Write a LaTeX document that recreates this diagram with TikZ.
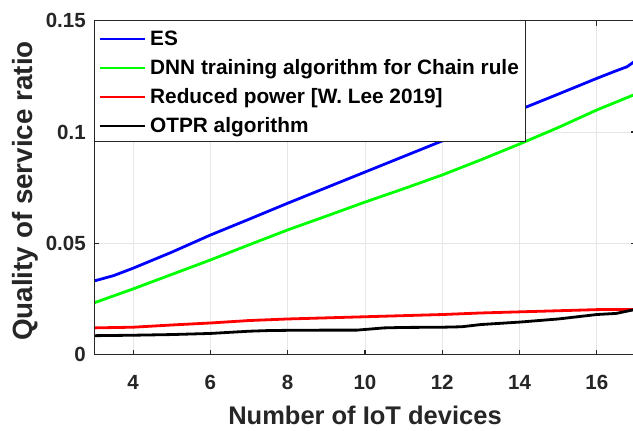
\documentclass[tikz,border=0pt]{standalone}
\usepackage{fontspec}
\setmainfont{Liberation Sans}
\definecolor{axisgray}{HTML}{262626}
\definecolor{gridgray}{HTML}{E6E6E6}
\definecolor{esblue}{RGB}{0,0,255}
\definecolor{dnngreen}{RGB}{0,255,0}
\definecolor{redpow}{RGB}{255,0,0}
\tikzset{
  gridline/.style={draw=gridgray, line width=0.8pt},
  axisline/.style={draw=axisgray, line width=1.1pt},
  tickmark/.style={draw=axisgray, line width=1.1pt},
  ticklabel/.style={text=axisgray, font=\fontsize{20.5}{22}\selectfont\bfseries, inner sep=0pt},
  axlabel/.style={text=axisgray, font=\fontsize{25.5}{28}\selectfont\bfseries, inner sep=0pt},
  curve/.style={line width=2.8pt, line join=round},
  legtext/.style={font=\fontsize{20.8}{22}\selectfont\bfseries, anchor=base west, inner sep=0pt},
  legframe/.style={draw=axisgray, fill=white, line width=0.9pt},
}
\begin{document}
\begin{tikzpicture}[x=1pt,y=1pt]
\useasboundingbox (0,0) rectangle (633,431);
\clip (0,0) rectangle (633,431);
\fill[white] (0,0) rectangle (633,431);

% plot area: x from 3 to 17, y in hundredths from 0 to 15
\begin{scope}[shift={(94.4,76.4)}, x=38.65pt, y=22.26pt]
  % grid
  \foreach \gx in {4,6,...,16} \draw[gridline] (\gx-3,0) -- (\gx-3,15);
  \foreach \gy in {5,10} \draw[gridline] (0,\gy) -- (14,\gy);

  % data series
  \draw[curve, draw=esblue] plot coordinates {
    (0,3.31) (0.5,3.55) (1,3.88) (2,4.6) (3,5.37) (4,6.08) (5,6.8) (6,7.5)
    (7,8.2) (8,8.9) (9,9.6) (10,10.3) (11,11.0) (12,11.7) (13,12.41)
    (13.5,12.75) (13.78,12.93) (14,13.2)};
  \draw[curve, draw=dnngreen] plot coordinates {
    (0,2.33) (1,2.95) (2,3.6) (3,4.25) (4,4.93) (5,5.6) (6,6.22) (7,6.85)
    (8,7.45) (9,8.07) (10,8.75) (11,9.46) (12,10.2) (13,10.99) (14,11.7)};
  \draw[curve, draw=redpow] plot coordinates {
    (0,1.2) (1,1.23) (2,1.33) (3,1.42) (4,1.53) (5,1.6) (6,1.65) (7,1.7)
    (8,1.75) (9,1.8) (10,1.87) (11,1.92) (12,1.97) (13,2.02) (13.5,2.03) (14,2.03)};
  \draw[curve, draw=black] plot coordinates {
    (0,0.85) (1,0.87) (2,0.9) (3,0.95) (4,1.05) (4.5,1.08) (5,1.09)
    (6,1.1) (6.8,1.1) (7.5,1.2) (8,1.22) (9,1.23) (9.5,1.25) (10,1.35)
    (11,1.46) (12,1.6) (13,1.8) (13.5,1.85) (14,2.03)};

  % axes frame and ticks
  \draw[axisline] (14,15) -- (0,15) -- (0,0) -- (14,0) -- cycle;
  \foreach \gx in {4,6,...,16} {
    \draw[tickmark] (\gx-3,0) -- ++(0,5pt);
    \draw[tickmark] (\gx-3,15) -- ++(0,-5pt);
  }
  \foreach \gy in {0,5,10,15} {
    \draw[tickmark] (0,\gy) -- ++(5pt,0);
    \draw[tickmark] (14,\gy) -- ++(-5pt,0);
  }

  % tick labels
  \foreach \gx in {4,6,...,16}
    \node[ticklabel, anchor=base] (xt\gx) at (\gx-3,-1.55) {\gx};
  \node[ticklabel, anchor=east] (yt0)  at (-0.22,0)  {0};
  \node[ticklabel, anchor=east] (yt5)  at (-0.22,5)  {0.05};
  \node[ticklabel, anchor=east] (yt10) at (-0.22,10) {0.1};
  \node[ticklabel, anchor=east] (yt15) at (-0.22,15) {0.15};
\end{scope}

% axis titles
\node[axlabel, anchor=base] (xlab) at (365,6) {Number of IoT devices};
\node[axlabel, anchor=base, rotate=90, font=\fontsize{27.8}{30}\selectfont\bfseries] (ylab) at (32.5,240) {Quality of service ratio};

% legend
\draw[legframe] (94,411) rectangle (525,290);
\coordinate (l1a) at (100,392); \coordinate (l1b) at (145,392);
\coordinate (l2a) at (100,363); \coordinate (l2b) at (145,363);
\coordinate (l3a) at (100,334); \coordinate (l3b) at (145,334);
\coordinate (l4a) at (100,305); \coordinate (l4b) at (145,305);
\draw[curve, draw=esblue]    (l1a) -- (l1b);
\draw[curve, draw=dnngreen]  (l2a) -- (l2b);
\draw[curve, draw=redpow]    (l3a) -- (l3b);
\draw[curve, draw=black]     (l4a) -- (l4b);
\node[legtext] (leg1) at (150,385.3) {ES};
\node[legtext] (leg2) at (150,356.7) {DNN training algorithm for Chain rule};
\node[legtext] (leg3) at (150,327.7) {Reduced power [W. Lee 2019]};
\node[legtext] (leg4) at (150,298.7) {OTPR algorithm};
\end{tikzpicture}
\end{document}
